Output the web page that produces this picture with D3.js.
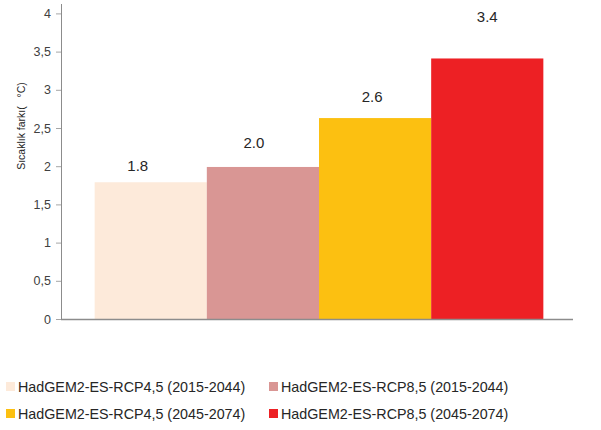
<!DOCTYPE html>
<html>
<head>
<meta charset="utf-8">
<script src="https://cdn.jsdelivr.net/npm/d3@7"></script>
<style>
  body { margin: 0; background: #fff; }
  svg text { font-family: "Liberation Sans", Arial, sans-serif; white-space: pre; }
</style>
</head>
<body>
<div id="chart"></div>
<script>
// data
const series = [
    "HadGEM2-ES-RCP4,5 (2015-2044)",
    "HadGEM2-ES-RCP8,5 (2015-2044)",
    "HadGEM2-ES-RCP4,5 (2045-2074)",
    "HadGEM2-ES-RCP8,5 (2045-2074)"
];
const values = [1.79, 1.99, 2.63, 3.41];
const valueLabels = ["1.8", "2.0", "2.6", "3.4"];
const yTicks = [0, 0.5, 1, 1.5, 2, 2.5, 3, 3.5, 4];
const colors = ["#FDEADA", "#D99694", "#FCC011", "#ED2024"];
const yTitle = "Sıcaklık farkı(   °C)";

// labels were dragged around by hand in the original
const labelNudge = [[-13, -11], [-9, -19], [-3, -16], [0, -36]];

const width = 601, height = 430;

const svg = d3.select("#chart")
    .append("svg")
    .attr("width", width)
    .attr("height", height);

const x = d3.scaleBand()
    .domain(series)
    .range([61, 577])
    .paddingInner(0)
    .paddingOuter(0.3);

const y = d3.scaleLinear()
    .domain([0, 4])
    .range([319, 13.4]);

const fmt = d3.formatLocale({ decimal: ",", thousands: ".", grouping: [3], currency: ["", ""] }).format("~g");

// y axis
const yAxis = svg.append("g")
    .attr("transform", "translate(61,0)")
    .call(d3.axisLeft(y).tickValues(yTicks).tickFormat(fmt).tickSize(5).tickPadding(5));
yAxis.select(".domain").remove();
yAxis.selectAll(".tick line").attr("stroke", "#a6a6a6");
yAxis.selectAll(".tick text")
    .attr("fill", "#404040")
    .style("font-size", "12.5px");

svg.append("line")
    .attr("x1", 61.5).attr("x2", 61.5)
    .attr("y1", 4).attr("y2", y(0))
    .attr("stroke", "#8c8c8c");

svg.append("text")
    .attr("transform", `translate(25,${126}) rotate(-90)`)
    .attr("text-anchor", "middle")
    .attr("fill", "#262626")
    .style("font-size", "10.5px")
    .text(yTitle);

// bars
svg.selectAll(".bar")
    .data(values)
    .enter()
    .append("rect")
    .attr("class", "bar")
    .attr("x", (d, i) => x(series[i]))
    .attr("y", d => y(d))
    .attr("width", x.bandwidth())
    .attr("height", d => y(0) - y(d))
    .attr("fill", (d, i) => colors[i]);

// baseline
svg.append("line")
    .attr("x1", 61).attr("x2", 573)
    .attr("y1", y(0) + 0.5).attr("y2", y(0) + 0.5)
    .attr("stroke", "#8c8c8c")
    .attr("stroke-width", 1.5);

// value labels
svg.selectAll(".val")
    .data(values)
    .enter()
    .append("text")
    .attr("class", "val")
    .attr("x", (d, i) => x(series[i]) + x.bandwidth() / 2 + labelNudge[i][0])
    .attr("y", (d, i) => y(d) + labelNudge[i][1])
    .attr("text-anchor", "middle")
    .attr("fill", "#262626")
    .style("font-size", "15px")
    .text((d, i) => valueLabels[i]);

// legend, 2 x 2
const legend = svg.selectAll(".legend")
    .data(series)
    .enter()
    .append("g")
    .attr("class", "legend")
    .attr("transform", (d, i) => `translate(${i % 2 === 0 ? 6 : 269},${i < 2 ? 382 : 409})`);

legend.append("rect")
    .attr("width", 9)
    .attr("height", 9)
    .attr("fill", (d, i) => colors[i]);

legend.append("text")
    .attr("x", 12)
    .attr("y", 9.5)
    .attr("fill", "#262626")
    .style("font-size", "14.3px")
    .text(d => d);
</script>
</body>
</html>
